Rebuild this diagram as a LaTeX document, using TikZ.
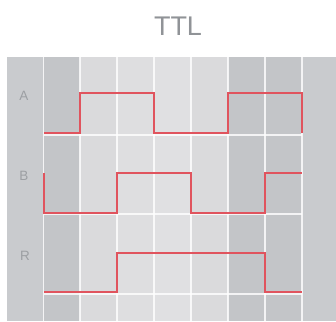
\documentclass[tikz,border=0pt]{standalone}
\usepackage{fontspec}
\setmainfont{Liberation Sans}
\begin{document}
\begin{tikzpicture}[x=1pt,y=-1pt,
  gridline/.style={white,line width=1.6pt,opacity=0.8},
  signal/.style={draw=sigred,line width=2.5pt,line join=miter,line cap=butt},
  siglabel/.style={text=labgray,font=\fontsize{13.5}{13.5}\selectfont,inner sep=0pt,anchor=center},
  title/.style={text=titlegray,font=\fontsize{27}{27}\selectfont,inner sep=0pt,anchor=center}]
\definecolor{sigred}{HTML}{E0545E}
\definecolor{labgray}{HTML}{9C9FA3}
\definecolor{titlegray}{HTML}{909397}
\definecolor{colside}{HTML}{C9CBCE}
\definecolor{coldark}{HTML}{C3C5C8}
\definecolor{colA}{HTML}{DADADC}
\definecolor{colB}{HTML}{DEDEE0}
\definecolor{colC}{HTML}{E0E0E2}
\definecolor{colD}{HTML}{DADADC}
\useasboundingbox (0,0) rectangle (336,321);
\fill[white] (0,0) rectangle (336,321);
% column shading
\fill[colside] (7,57) rectangle (44,321);
\fill[coldark] (44,57) rectangle (80,321);
\fill[colA] (80,57) rectangle (117,321);
\fill[colB] (117,57) rectangle (154,321);
\fill[colC] (154,57) rectangle (191,321);
\fill[colD] (191,57) rectangle (228,321);
\fill[coldark] (228,57) rectangle (302,321);
\fill[colside] (302,57) rectangle (336,321);
% grid lines
\foreach \gx in {43.5,80,117,154,191,228,265,302}
  \draw[gridline] (\gx,57) -- (\gx,321);
\foreach \gy in {135,214,294}
  \draw[gridline] (44,\gy) -- (302,\gy);
% title and channel labels
\node[title] (ttl) at (178,26) {TTL};
\node[siglabel] (la) at (24,96) {A};
\node[siglabel] (lb) at (24,176) {B};
\node[siglabel] (lr) at (25,256) {R};
% waveforms
\draw[signal] (44,133) -- (80,133) -- (80,93) -- (154,93) -- (154,133)
  -- (228,133) -- (228,93) -- (302,93) -- (302,133);
\draw[signal] (44,173) -- (44,213) -- (117,213) -- (117,173) -- (191,173)
  -- (191,213) -- (265,213) -- (265,173) -- (302,173);
\draw[signal] (44,292) -- (117,292) -- (117,253) -- (265,253) -- (265,292)
  -- (302,292);
\end{tikzpicture}
\end{document}
